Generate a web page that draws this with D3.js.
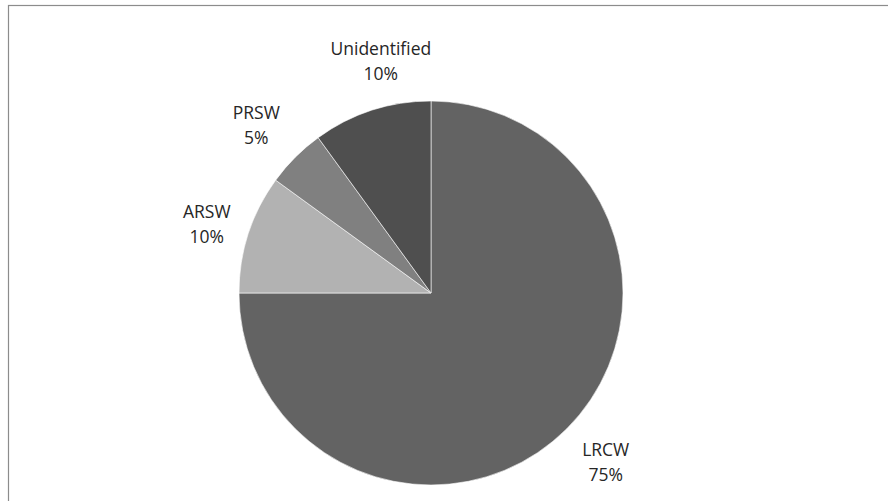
<!DOCTYPE html>
<html>
<head>
<meta charset="utf-8">
<script src="https://cdn.jsdelivr.net/npm/d3@7"></script>
<style>
  html, body { margin: 0; padding: 0; background: #fff; }
  svg { display: block; }
</style>
</head>
<body>
<svg id="chart" width="888" height="501"></svg>
<script>
// Share of each category (percent)
const categories = ["LRCW", "ARSW", "PRSW", "Unidentified"];
const shares = [75, 10, 5, 10];
const sliceColors = ["#636363", "#b2b2b2", "#808080", "#4f4f4f"];

const width = 888, height = 501;
const cx = 431, cy = 293, radius = 192, labelRadius = 240;

// Small per-label placement tweaks (pixels) so the labels sit clear of each other
const labelNudge = {
  "LRCW": [5, 0],
  "ARSW": [4, 5],
  "PRSW": [-5, 2],
  "Unidentified": [24, -3]
};

const svg = d3.select("#chart");

// Chart frame
svg.append("rect")
  .attr("x", 8.5).attr("y", 5.5)
  .attr("width", 900).attr("height", 520)
  .attr("fill", "none")
  .attr("stroke", "#8c8c8c")
  .attr("stroke-width", 1.2);

const data = categories.map((c, i) => ({ name: c, value: shares[i], color: sliceColors[i] }));

const pie = d3.pie().sort(null).value(d => d.value);
const arcs = pie(data);

const arc = d3.arc().innerRadius(0).outerRadius(radius);
const labelArc = d3.arc().innerRadius(labelRadius).outerRadius(labelRadius);

const g = svg.append("g").attr("transform", `translate(${cx},${cy})`);

g.selectAll("path.slice")
  .data(arcs)
  .join("path")
  .attr("class", "slice")
  .attr("d", arc)
  .attr("fill", d => d.data.color)
  .attr("stroke", "#ffffff")
  .attr("stroke-width", 0.6);

const labels = g.selectAll("text.label")
  .data(arcs)
  .join("text")
  .attr("class", "label")
  .attr("text-anchor", "middle")
  .attr("font-family", "'Open Sans', sans-serif")
  .attr("font-size", 17.5)
  .attr("fill", "#262626")
  .attr("transform", d => {
    const [x, y] = labelArc.centroid(d);
    const [nx, ny] = labelNudge[d.data.name] || [0, 0];
    return `translate(${x + nx},${y + ny})`;
  });

labels.append("tspan")
  .attr("x", 0).attr("y", -6.25)
  .text(d => d.data.name);

labels.append("tspan")
  .attr("x", 0).attr("y", 18.75)
  .text(d => d.data.value + "%");
</script>
</body>
</html>
